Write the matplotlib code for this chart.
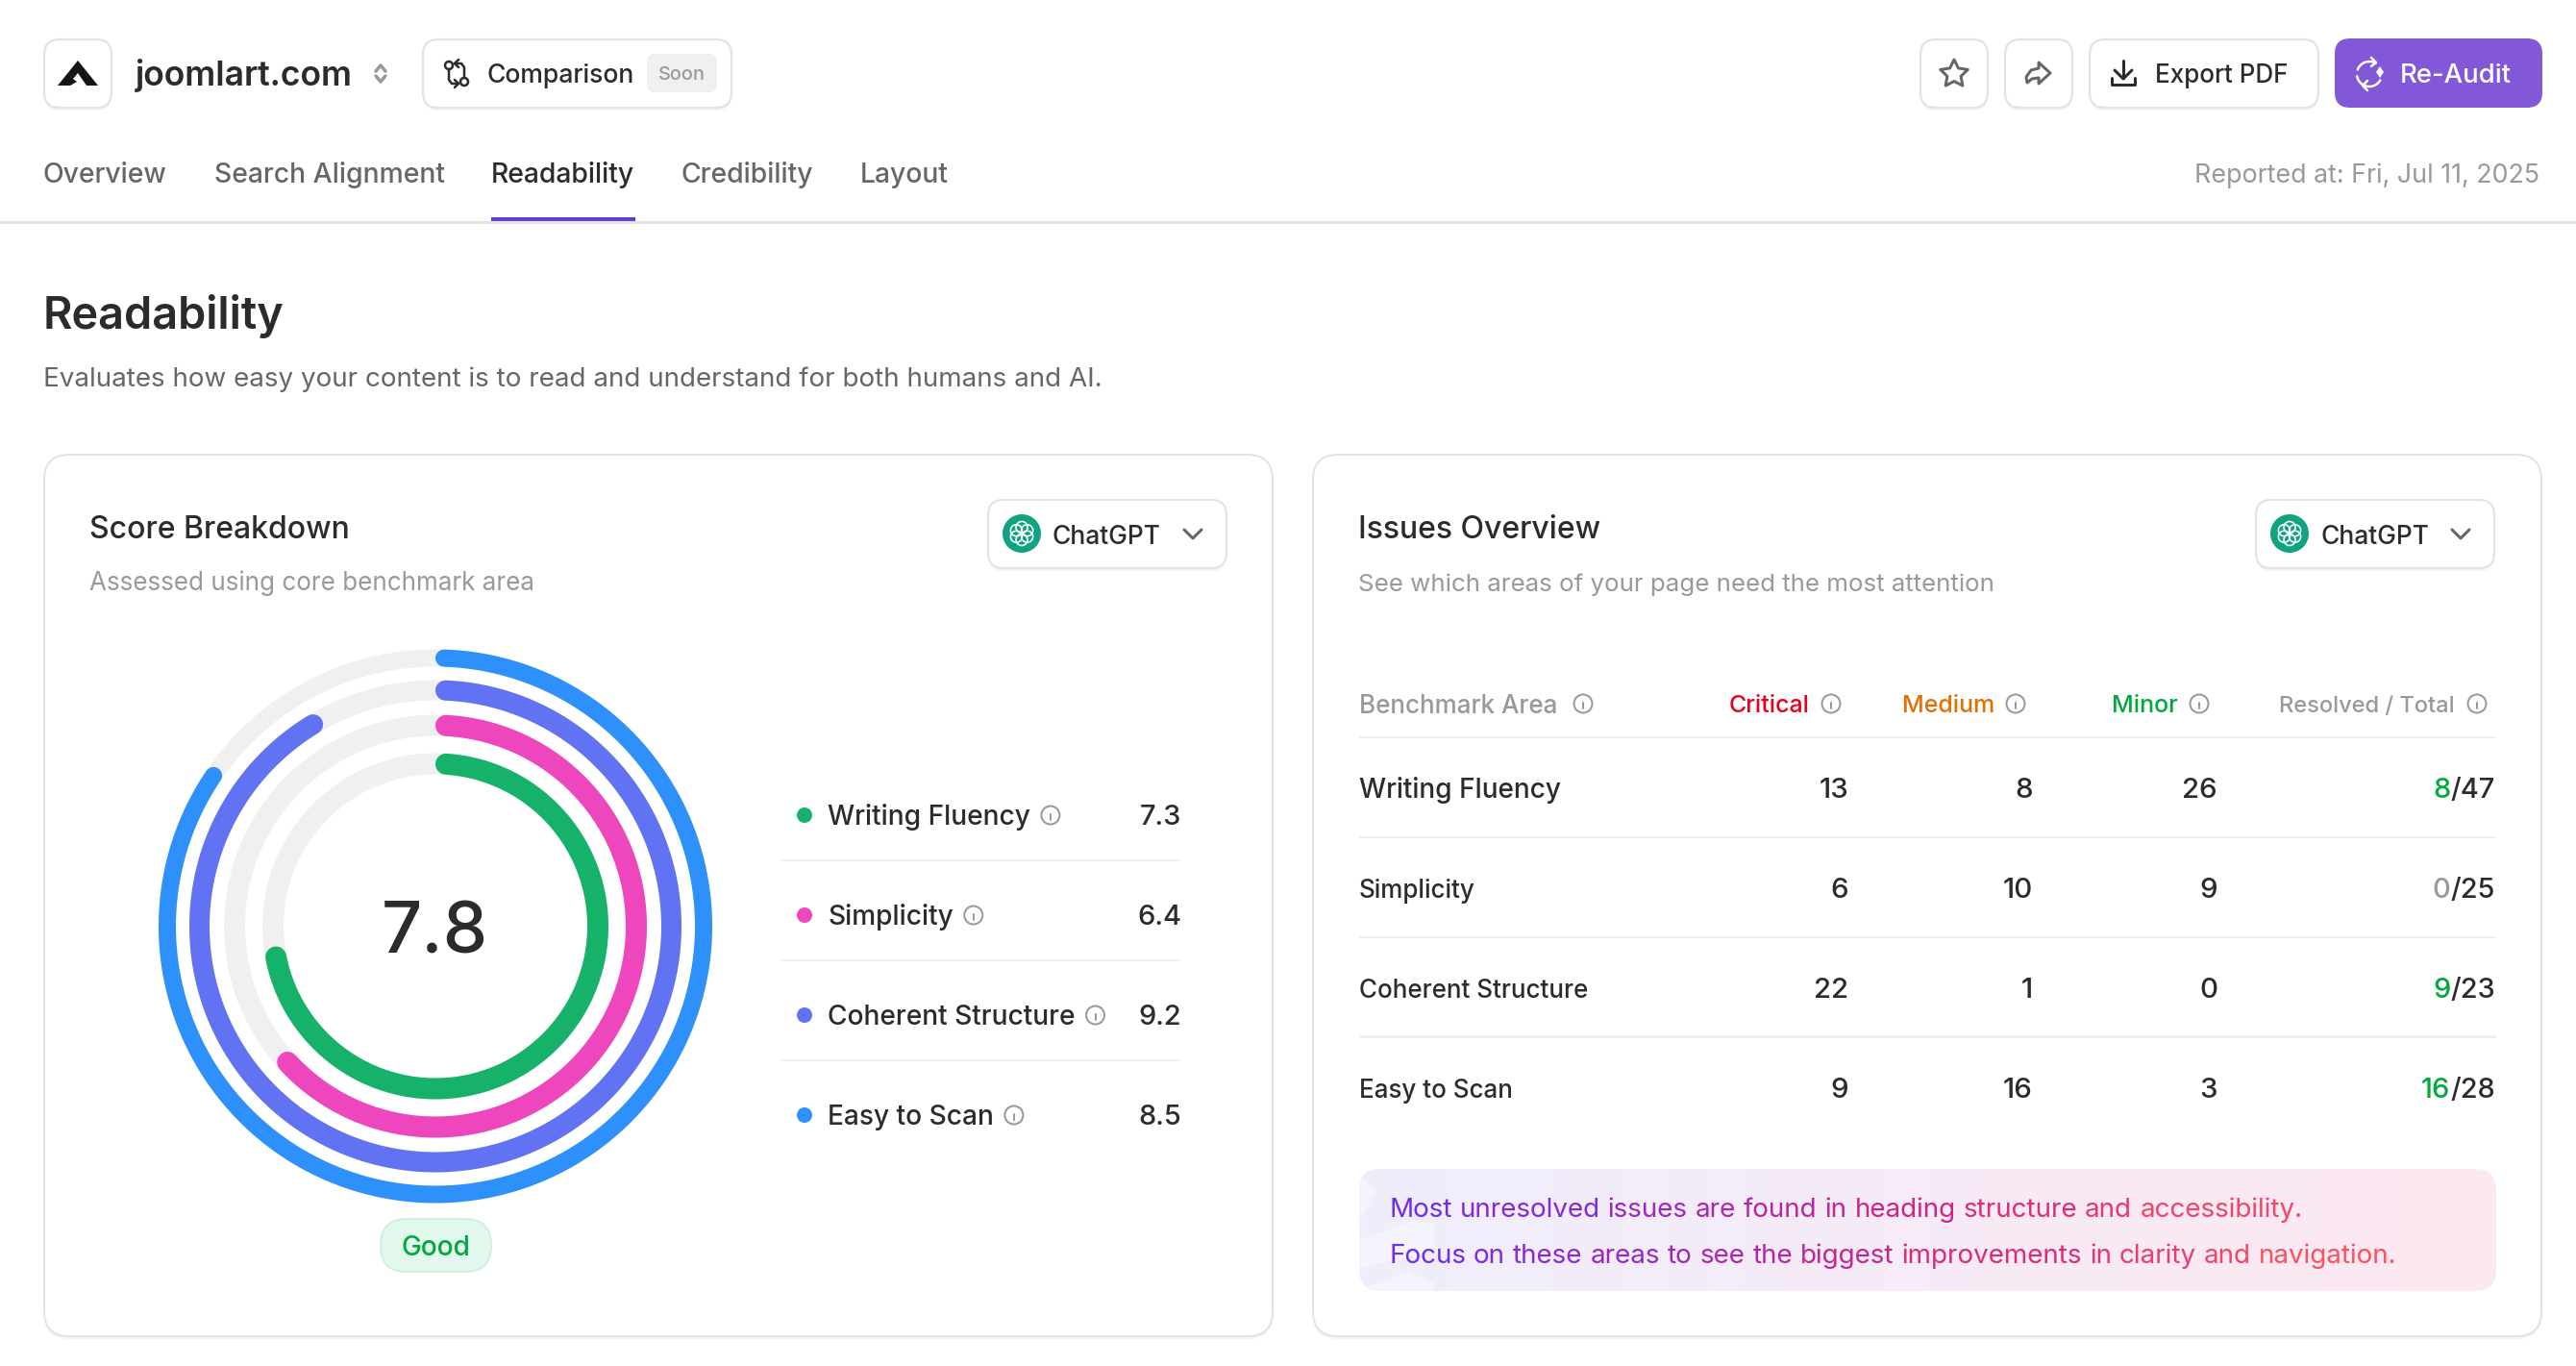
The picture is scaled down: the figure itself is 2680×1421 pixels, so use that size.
import numpy as np
import matplotlib
matplotlib.use('Agg')
from matplotlib import pyplot as plt
from matplotlib.patches import FancyBboxPatch, Circle, Polygon

plt.rcParams['font.family'] = ['Inter', 'DejaVu Sans']

# data
tabs = ['Overview', 'Search Alignment', 'Readability', 'Credibility', 'Layout']
areas = ['Writing Fluency', 'Simplicity', 'Coherent Structure', 'Easy to Scan']
scores = [7.3, 6.4, 9.2, 8.5]
overall = '7.8'
critical = [13, 6, 22, 9]
medium = [8, 10, 1, 16]
minor = [26, 9, 0, 3]
resolved = [8, 0, 9, 16]
total = [47, 25, 23, 28]
callout = ['Most unresolved issues are found in heading structure and accessibility.',
           'Focus on these areas to see the biggest improvements in clarity and navigation.']

# styles
ring_colors = ['#17B26A', '#EE46BC', '#6172F3', '#2E90FA']
ring_r = [169, 209, 245.5, 279]
ring_w = [22, 22, 21, 18]
DARK = '#2B2B2B'
GREY = '#666666'
LIGHT = '#999999'
LINE = '#E3E3E3'
SOFT = '#F0F0F0'
GREEN = '#00A83E'

W, H = 2680, 1421
PT = 0.72

fig = plt.figure(figsize=(W / 100, H / 100), dpi=100, facecolor='white')
ax = fig.add_axes([0, 0, 1, 1])
ax.set_xlim(0, W)
ax.set_ylim(H, 0)
ax.axis('off')
renderer = fig.canvas.get_renderer()


def txt(x, y, s, size=28, color=DARK, weight='medium', ha='left'):
    return ax.text(x, y, s, fontsize=size * PT, color=color, fontweight=weight, ha=ha, va='baseline')


def box(x0, y0, x1, y1, r=16, fc='white', ec=LINE, lw=2.2, shadow=False, z=1):
    if shadow:
        ax.add_patch(FancyBboxPatch((x0, y0 + 3), x1 - x0, y1 - y0, boxstyle=f'round,pad=0,rounding_size={r}',
                                    fc='#F4F4F4', ec='none', zorder=z))
    p = FancyBboxPatch((x0, y0), x1 - x0, y1 - y0, boxstyle=f'round,pad=0,rounding_size={r}',
                       fc=fc, ec=ec, lw=lw * PT, zorder=z)
    ax.add_patch(p)
    return p


def line(xs, ys, color=DARK, lw=2.5, z=3):
    ax.plot(xs, ys, color=color, lw=lw * PT, solid_capstyle='round', solid_joinstyle='round', zorder=z)


def info(x, y):
    ax.add_patch(Circle((x, y), 9.5, fc='none', ec=LIGHT, lw=2 * PT, zorder=3))
    line([x, x], [y - 1, y + 5], LIGHT, 2)
    line([x, x], [y - 5, y - 4.6], LIGHT, 2)


def text_right(t):
    return ax.transData.inverted().transform(t.get_window_extent(renderer))[1][0]


def text_left(t):
    return ax.transData.inverted().transform(t.get_window_extent(renderer))[0][0]


def arc(cx, cy, r, a0, a1, color, lw=2.5):
    t = np.radians(np.linspace(a0, a1, 40))
    line(cx + r * np.cos(t), cy + r * np.sin(t), color, lw)


def chatgpt(cx, cy, x_text, x_chev):
    ax.add_patch(Circle((cx, cy), 20, fc='#10A37F', ec='none', zorder=3))
    for a in range(0, 360, 60):
        t = np.radians(a + 30)
        ax.add_patch(Circle((cx + 6.5 * np.cos(t), cy + 6.5 * np.sin(t)), 6, fc='none', ec='white', lw=1.6 * PT, zorder=4))
    txt(x_text, 566, 'ChatGPT', 26.4)
    line([x_chev - 9, x_chev, x_chev + 9], [551, 560, 551], GREY, 3)


# top bar
box(46, 41, 116, 112, shadow=True)
ax.add_patch(Polygon([[81, 63], [102, 89], [90, 89], [81, 76], [76, 82], [80, 85], [73, 89], [60, 89]],
                     fc='#151515', ec='none', zorder=3))
txt(141, 89, 'joomlart.com', 35.5, DARK, 'semibold')
line([391, 396, 401], [74, 68, 74], '#999999', 3.5)
line([391, 396, 401], [79, 85, 79], '#999999', 3.5)

box(440, 41, 761, 112, shadow=True)
ax.add_patch(Circle((467, 68), 4, fc='none', ec=DARK, lw=2.5 * PT, zorder=3))
ax.add_patch(Circle((483, 85), 4, fc='none', ec=DARK, lw=2.5 * PT, zorder=3))
line([467, 467, 470, 477], [72, 83, 87, 87], DARK)
line([473, 477, 473], [83, 87, 91], DARK)
line([483, 483, 480, 473], [81, 70, 66, 66], DARK)
line([477, 473, 477], [62, 66, 70], DARK)
txt(507, 86, 'Comparison', 26.5)
box(673, 56, 746, 96, r=8, fc=SOFT, ec='none', lw=0, z=2)
txt(709.5, 83, 'Soon', 20, LIGHT, ha='center')

box(1998, 41, 2068, 112, shadow=True)
star = []
for i in range(10):
    a = np.radians(-90 + i * 36)
    rad = 15 if i % 2 == 0 else 7.5
    star.append([2033 + rad * np.cos(a), 77 + rad * np.sin(a)])
ax.add_patch(Polygon(star, fc='none', ec=GREY, lw=3 * PT, joinstyle='round', zorder=3))

box(2086, 41, 2156, 112, shadow=True)
ax.add_patch(Polygon([[2121, 65], [2133, 76], [2121, 87], [2121, 81], [2114, 82], [2109, 86], [2108, 80], [2113, 73], [2121, 71]],
                     fc='none', ec=GREY, lw=3 * PT, joinstyle='round', zorder=3))

box(2174, 41, 2412, 112, shadow=True)
line([2209, 2209], [63, 81], DARK, 3)
line([2200, 2209, 2218], [73, 82, 73], DARK, 3)
line([2197, 2197, 2221, 2221], [81, 88, 88, 81], DARK, 3)
txt(2242, 86, 'Export PDF', 26)

box(2429, 40, 2645, 112, fc='#8257D8', ec='#8257D8', lw=0)
arc(2465, 77, 13, 200, 300, 'white')
arc(2465, 77, 13, 30, 170, 'white')
line([2467, 2472, 2467], [60, 65, 69], 'white', 2.5)
line([2463, 2458, 2463], [84, 89, 94], 'white', 2.5)
ax.add_patch(Polygon([[2476, 69], [2480, 75], [2476, 81], [2472, 75]], fc='white', ec='none', zorder=3))
txt(2497, 86, 'Re-Audit', 27.5, 'white')

# nav
tab_x = [45, 223, 511, 709, 895]
for name, x in zip(tabs, tab_x):
    txt(x, 190, name, 28.3, DARK if name == 'Readability' else GREY)
ax.fill_between([0, W], 230, 232.5, color=LINE, lw=0)
ax.fill_between([511, 661], 226, 230, color='#6C3BC8', lw=0)
txt(2642, 190, 'Reported at: Fri, Jul 11, 2025', 26.8, LIGHT, 'regular', 'right')

txt(45, 342.5, 'Readability', 46.8, DARK, 'semibold')
txt(45, 402, 'Evaluates how easy your content is to read and understand for both humans and AI.', 27.8, GREY, 'regular')

# cards
box(46, 473, 1324, 1390, r=26, shadow=True, lw=2)
box(1366, 473, 2644, 1390, r=26, shadow=True, lw=2)
txt(93, 560.5, 'Score Breakdown', 32)
txt(93, 614.5, 'Assessed using core benchmark area', 26, LIGHT, 'regular')
txt(1413, 560.5, 'Issues Overview', 32)
txt(1413, 614.5, 'See which areas of your page need the most attention', 25.9, LIGHT, 'regular')

box(1028, 520, 1276, 591, shadow=True)
chatgpt(1063, 555, 1095, 1241)
box(2347, 520, 2595, 591, shadow=True)
chatgpt(2382, 555, 2415, 2560)

# rings on a polar axes, radius in pixels
R = 300
cx, cy = 453, 963.5
pax = fig.add_axes([(cx - R) / W, 1 - (cy + R) / H, 2 * R / W, 2 * R / H], projection='polar', zorder=2)
pax.set_theta_zero_location('N')
pax.set_theta_direction(-1)
pax.set_ylim(0, R)
pax.axis('off')
pax.patch.set_alpha(0)
for score, r, w, col in zip(scores, ring_r, ring_w, ring_colors):
    pax.plot(np.linspace(0, 2 * np.pi, 400), np.full(400, r), color=SOFT, lw=w * PT, solid_capstyle='butt')
    off = (w / 2) / r
    th = np.linspace(off, score / 10 * 2 * np.pi - off, 400)
    pax.plot(th, np.full(400, r), color=col, lw=w * PT, solid_capstyle='round')
txt(cx - 1, 992, overall, 74, DARK, 'medium', 'center').set_zorder(5)

box(396, 1268, 511, 1323, r=27, fc='#E3F8EC', ec='#CFF0DD', lw=2)
txt(453, 1306.5, 'Good', 28, GREEN, ha='center')

# legend
for i, (name, score, col) in enumerate(zip(areas, scores, ring_colors)):
    y = 848 + 104 * i
    ax.add_patch(Circle((837, y), 8, fc=col, ec='none', zorder=3))
    t = txt(861, y + 10, name, 28.1)
    info(text_right(t) + 21, y)
    txt(1229, y + 10, f'{score:.1f}', 29, ha='right')
    if i < 3:
        ax.fill_between([812, 1228], y + 46, y + 48, color=SOFT, lw=0)

# issues table
txt(1414, 742, 'Benchmark Area', 26, LIGHT)
info(1647, 732)
heads = ['Critical', 'Medium', 'Minor', 'Resolved / Total']
head_x = [1799, 1979, 2197, 2371]
head_s = [25, 25, 25, 23.6]
head_c = ['#E8001C', '#E07000', GREEN, LIGHT]
head_i = [1905, 2097, 2288, 2577]
for name, x, size, col, ix in zip(heads, head_x, head_s, head_c, head_i):
    txt(x, 741, name, size, col)
    info(ix, 732)

col_x = [1923, 2115, 2307]
for i, name in enumerate(areas):
    base = 830 + 104 * i
    ax.fill_between([1414, 2597], base - 64, base - 62, color=SOFT, lw=0)
    txt(1414, base, name, 28 if i == 0 else 26)
    for x, vals in zip(col_x, (critical, medium, minor)):
        txt(x, base, str(vals[i]), 29.5, ha='right')
    t = txt(2596, base, f'/{total[i]}', 29, ha='right')
    txt(text_left(t), base, str(resolved[i]), 29, GREEN if resolved[i] > 0 else LIGHT, ha='right')
ax.fill_between([1414, 2597], 1077, 1079, color=SOFT, lw=0)

# callout with a gradient behind
clip = box(1414, 1216, 2597, 1343, r=22, fc='none', ec='none', lw=0)
grad = np.linspace(0, 1, 256).reshape(1, -1, 1)
c0 = np.array([240, 238, 252]) / 255
c1 = np.array([253, 232, 241]) / 255
img = ax.imshow(c0 + (c1 - c0) * grad, extent=[1414, 2597, 1343, 1216], aspect='auto', zorder=1)
img.set_clip_path(clip)
ax.set_xlim(0, W)
ax.set_ylim(H, 0)
for pts in ([[1414, 1225], [1433, 1238], [1414, 1270]],
            [[1414, 1290], [1470, 1270], [1492, 1273], [1492, 1300], [1414, 1320]],
            [[1414, 1343], [1465, 1322], [1492, 1335], [1492, 1343]]):
    p = Polygon(pts, fc='white', ec='none', alpha=0.35, zorder=1.5)
    ax.add_patch(p)
    p.set_clip_path(clip)

stops = np.array([[106, 43, 245], [214, 36, 126], [255, 90, 90]]) / 255
x_a, x_b = 1445, 2493
for base, s in zip([1266, 1314], callout):
    x = x_a
    for w in s.split(' '):
        t = txt(x, base, w, 27.8, 'black', 'regular')
        right = text_right(t)
        f = ((x + right) / 2 - x_a) / (x_b - x_a)
        t.set_color([np.interp(f, [0, 0.55, 1], stops[:, k]) for k in range(3)])
        t.set_zorder(4)
        x = right + 8

fig.savefig('out.png', dpi=100)
